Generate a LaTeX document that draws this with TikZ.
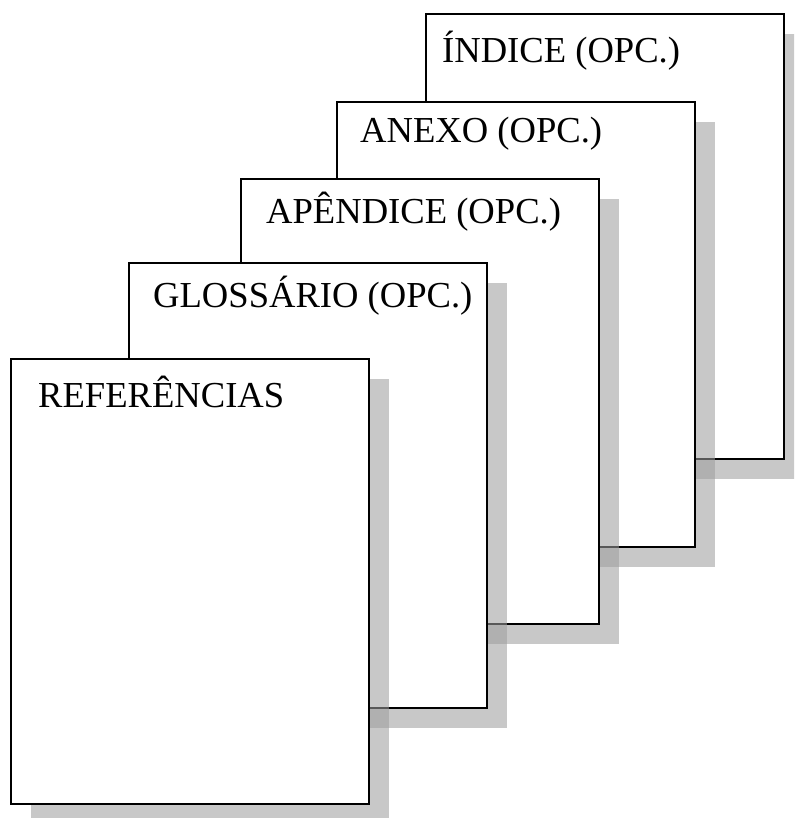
\documentclass[tikz,border=0pt]{standalone}
\usepackage{fontspec}
\setmainfont{Liberation Serif}
\usetikzlibrary{shadows}

\definecolor{shadowgray}{RGB}{157,157,157}

\tikzset{
  page/.style={draw=black, fill=white, line width=1.6pt, anchor=north west,
    minimum width=358pt, minimum height=445pt, inner sep=0pt,
    drop shadow={shadow xshift=20pt, shadow yshift=-20pt, fill=shadowgray, opacity=0.56}},
  pagetitle/.style={anchor=base west, inner sep=0pt, font=\fontsize{36.6}{40}\selectfont}
}

\begin{document}
\begin{tikzpicture}[x=1pt, y=-1pt]
    % Canvas
    \useasboundingbox (0,0) rectangle (794,818);
    \clip (0,0) rectangle (794,818);

    % Pages, back to front
    \foreach \name/\px/\py/\dx/\dy/\txt in {
        indice/425/13/17/50/ÍNDICE (OPC.),
        anexo/336/101/24/42/ANEXO (OPC.),
        apendice/240/178/26/45/APÊNDICE (OPC.),
        glossario/128/262/25/45/GLOSSÁRIO (OPC.),
        referencias/10/358/28/49/REFERÊNCIAS}{
        \node[page] (\name) at (\px,\py) {};
        \node[pagetitle] (\name-title) at ([shift={(\dx,\dy)}]\name.north west) {\txt};
    }
\end{tikzpicture}
\end{document}
